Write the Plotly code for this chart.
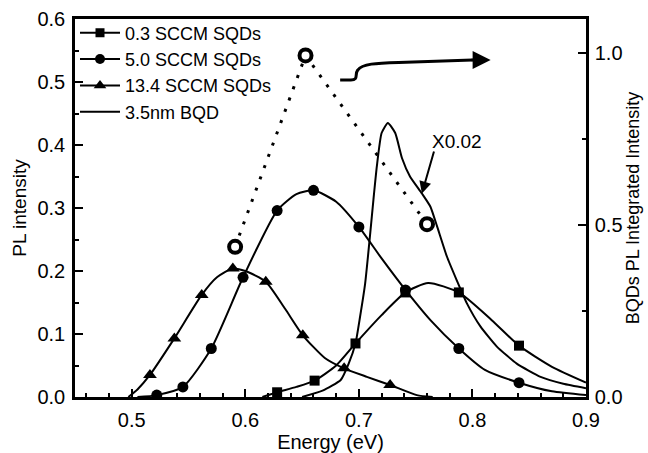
import plotly.graph_objects as go

# ---------------- data ----------------
# 0.3 SCCM SQDs
sq_curve_x = [0.615, 0.628, 0.645, 0.661, 0.68, 0.697, 0.72, 0.741, 0.761, 0.788, 0.817, 0.841, 0.87, 0.9]
sq_curve_y = [0.0, 0.0075, 0.016, 0.026, 0.05, 0.085, 0.13, 0.166, 0.181, 0.166, 0.122, 0.0815, 0.048, 0.023]
sq_mark_x = [0.628, 0.661, 0.697, 0.741, 0.788, 0.841]
sq_mark_y = [0.0075, 0.026, 0.085, 0.166, 0.166, 0.0815]

# 5.0 SCCM SQDs
ci_curve_x = [0.505, 0.522, 0.545, 0.570, 0.598, 0.628, 0.645, 0.660, 0.680, 0.700, 0.720, 0.741, 0.763, 0.788, 0.811, 0.841, 0.870, 0.900]
ci_curve_y = [0.0, 0.003, 0.016, 0.077, 0.19, 0.296, 0.322, 0.328, 0.31, 0.27, 0.22, 0.17, 0.122, 0.077, 0.043, 0.0227, 0.009, 0.003]
ci_mark_x = [0.522, 0.545, 0.570, 0.598, 0.628, 0.660, 0.700, 0.741, 0.788, 0.841]
ci_mark_y = [0.003, 0.016, 0.077, 0.19, 0.296, 0.328, 0.27, 0.17, 0.077, 0.0227]

# 13.4 SCCM SQDs
tr_curve_x = [0.497, 0.505, 0.516, 0.5375, 0.5616, 0.575, 0.589, 0.600, 0.618, 0.635, 0.6506, 0.670, 0.687, 0.707, 0.7275, 0.751, 0.765]
tr_curve_y = [0.0, 0.012, 0.035, 0.093, 0.162, 0.19, 0.204, 0.2, 0.183, 0.14, 0.098, 0.062, 0.0455, 0.032, 0.019, 0.003, 0.0]
tr_mark_x = [0.516, 0.5375, 0.5616, 0.589, 0.618, 0.6506, 0.687, 0.7275]
tr_mark_y = [0.035, 0.093, 0.162, 0.204, 0.183, 0.098, 0.0455, 0.019]

# 3.5nm BQD (x0.02)
bqd_x = [0.650, 0.668, 0.684, 0.691, 0.697, 0.701, 0.7055, 0.710, 0.7128, 0.7158, 0.720, 0.7255, 0.732, 0.738, 0.745,
         0.7555, 0.763, 0.769, 0.7775, 0.786, 0.795, 0.807, 0.8215, 0.839, 0.860, 0.880, 0.900]
bqd_y = [0.0, 0.01, 0.027, 0.053, 0.085, 0.127, 0.18, 0.26, 0.313, 0.366, 0.419, 0.435, 0.419, 0.379, 0.35,
         0.323, 0.302, 0.27, 0.223, 0.186, 0.149, 0.112, 0.08, 0.053, 0.032, 0.021, 0.014]

# BQDs PL integrated intensity (right axis)
int_x = [0.591, 0.653, 0.760]
int_y = [0.437, 0.994, 0.503]

x_ticks = [0.5, 0.6, 0.7, 0.8, 0.9]
y_ticks = [0.0, 0.1, 0.2, 0.3, 0.4, 0.5, 0.6]
y2_ticks = [0.0, 0.5, 1.0]

FONT = "Liberation Sans, Arial, sans-serif"
BLACK = "#000000"

fig = go.Figure()

def add_series(cx, cy, mx, my, symbol, name, msize):
    fig.add_trace(go.Scatter(x=cx, y=cy, mode="lines", line=dict(color=BLACK, width=2, shape="spline", smoothing=0.6),
                             showlegend=False, hoverinfo="skip"))
    fig.add_trace(go.Scatter(x=mx, y=my, mode="markers", marker=dict(symbol=symbol, size=msize, color=BLACK),
                             showlegend=False))
    fig.add_trace(go.Scatter(x=[None], y=[None], mode="lines+markers", name=name,
                             line=dict(color=BLACK, width=2), marker=dict(symbol=symbol, size=msize - 1, color=BLACK)))

add_series(sq_curve_x, sq_curve_y, sq_mark_x, sq_mark_y, "square", "0.3 SCCM SQDs", 10)
add_series(ci_curve_x, ci_curve_y, ci_mark_x, ci_mark_y, "circle", "5.0 SCCM SQDs", 11)
add_series(tr_curve_x, tr_curve_y, tr_mark_x, tr_mark_y, "triangle-up", "13.4 SCCM SQDs", 12)

fig.add_trace(go.Scatter(x=bqd_x, y=bqd_y, mode="lines", name="3.5nm BQD",
                         line=dict(color=BLACK, width=2, shape="spline", smoothing=0.5)))

fig.add_trace(go.Scatter(x=int_x, y=int_y, mode="lines+markers", yaxis="y2", showlegend=False,
                         line=dict(color=BLACK, width=3, dash="3px,9px"),
                         marker=dict(symbol="circle", size=12, color="white", line=dict(color=BLACK, width=4))))

# curved arrow pointing to right axis
fig.add_shape(type="path", xref="x", yref="y",
              path="M 0.6835,0.503 L 0.693,0.503 C 0.700,0.503 0.696,0.512 0.699,0.519 C 0.703,0.529 0.715,0.530 0.735,0.531 L 0.800,0.535",
              line=dict(color=BLACK, width=3))
fig.add_annotation(x=0.816, y=0.535, ax=0.798, ay=0.535, xref="x", yref="y", axref="x", ayref="y",
                   text="", showarrow=True, arrowhead=2, arrowsize=1.2, arrowwidth=3, arrowcolor=BLACK)

# X0.02 label with arrow
fig.add_annotation(x=0.786, y=0.405, xref="x", yref="y", text="X0.02", showarrow=False,
                   font=dict(family=FONT, size=19, color=BLACK))
fig.add_annotation(x=0.7555, y=0.323, ax=0.7665, ay=0.392, xref="x", yref="y", axref="x", ayref="y",
                   text="", showarrow=True, arrowhead=2, arrowsize=1.2, arrowwidth=2, arrowcolor=BLACK)

fig.update_layout(
    width=648, height=453,
    margin=dict(l=75, r=62, t=19, b=56, autoexpand=False),
    paper_bgcolor="white", plot_bgcolor="white",
    font=dict(family=FONT, size=20, color=BLACK),
    legend=dict(x=0.0, y=1.012, xanchor="left", yanchor="top", bgcolor="rgba(0,0,0,0)",
                font=dict(family=FONT, size=18, color=BLACK), tracegroupgap=0, itemwidth=40),
    xaxis=dict(range=[0.45, 0.9], tickvals=x_ticks, ticktext=[f"{v:.1f}" for v in x_ticks],
               ticks="inside", ticklen=8, tickwidth=2, tickcolor=BLACK, ticklabelstandoff=3,
               tickfont=dict(size=20), automargin=False,
               minor=dict(dtick=0.02, tick0=0.0, ticks="inside", ticklen=4, tickwidth=1.5, tickcolor=BLACK),
               showline=True, linewidth=2.5, linecolor=BLACK, mirror=True, showgrid=False, zeroline=False,
               title=dict(text="Energy (eV)", standoff=6, font=dict(size=20))),
    yaxis=dict(range=[0.0, 0.6], tickvals=y_ticks, ticktext=[f"{v:.1f}" for v in y_ticks],
               ticks="inside", ticklen=8, tickwidth=2, tickcolor=BLACK, ticklabelstandoff=3,
               tickfont=dict(size=20), automargin=False,
               minor=dict(dtick=0.05, tick0=0.0, ticks="inside", ticklen=4, tickwidth=1.5, tickcolor=BLACK),
               showline=True, linewidth=2.5, linecolor=BLACK, showgrid=False, zeroline=False,
               title=dict(text="PL intensity", standoff=6, font=dict(size=19))),
    yaxis2=dict(range=[0.0, 1.1], overlaying="y", side="right", tickvals=y2_ticks,
                ticktext=[f"{v:.1f}" for v in y2_ticks],
                ticks="inside", ticklen=8, tickwidth=2, tickcolor=BLACK, ticklabelstandoff=2,
                tickfont=dict(size=20), automargin=False,
                minor=dict(dtick=0.25, tick0=0.0, ticks="inside", ticklen=4, tickwidth=1.5, tickcolor=BLACK),
                showline=True, linewidth=2.5, linecolor=BLACK, showgrid=False, zeroline=False,
                title=dict(text="BQDs PL Integrated Intensity", standoff=2, font=dict(size=18))),
)

fig.write_html("out.html")
